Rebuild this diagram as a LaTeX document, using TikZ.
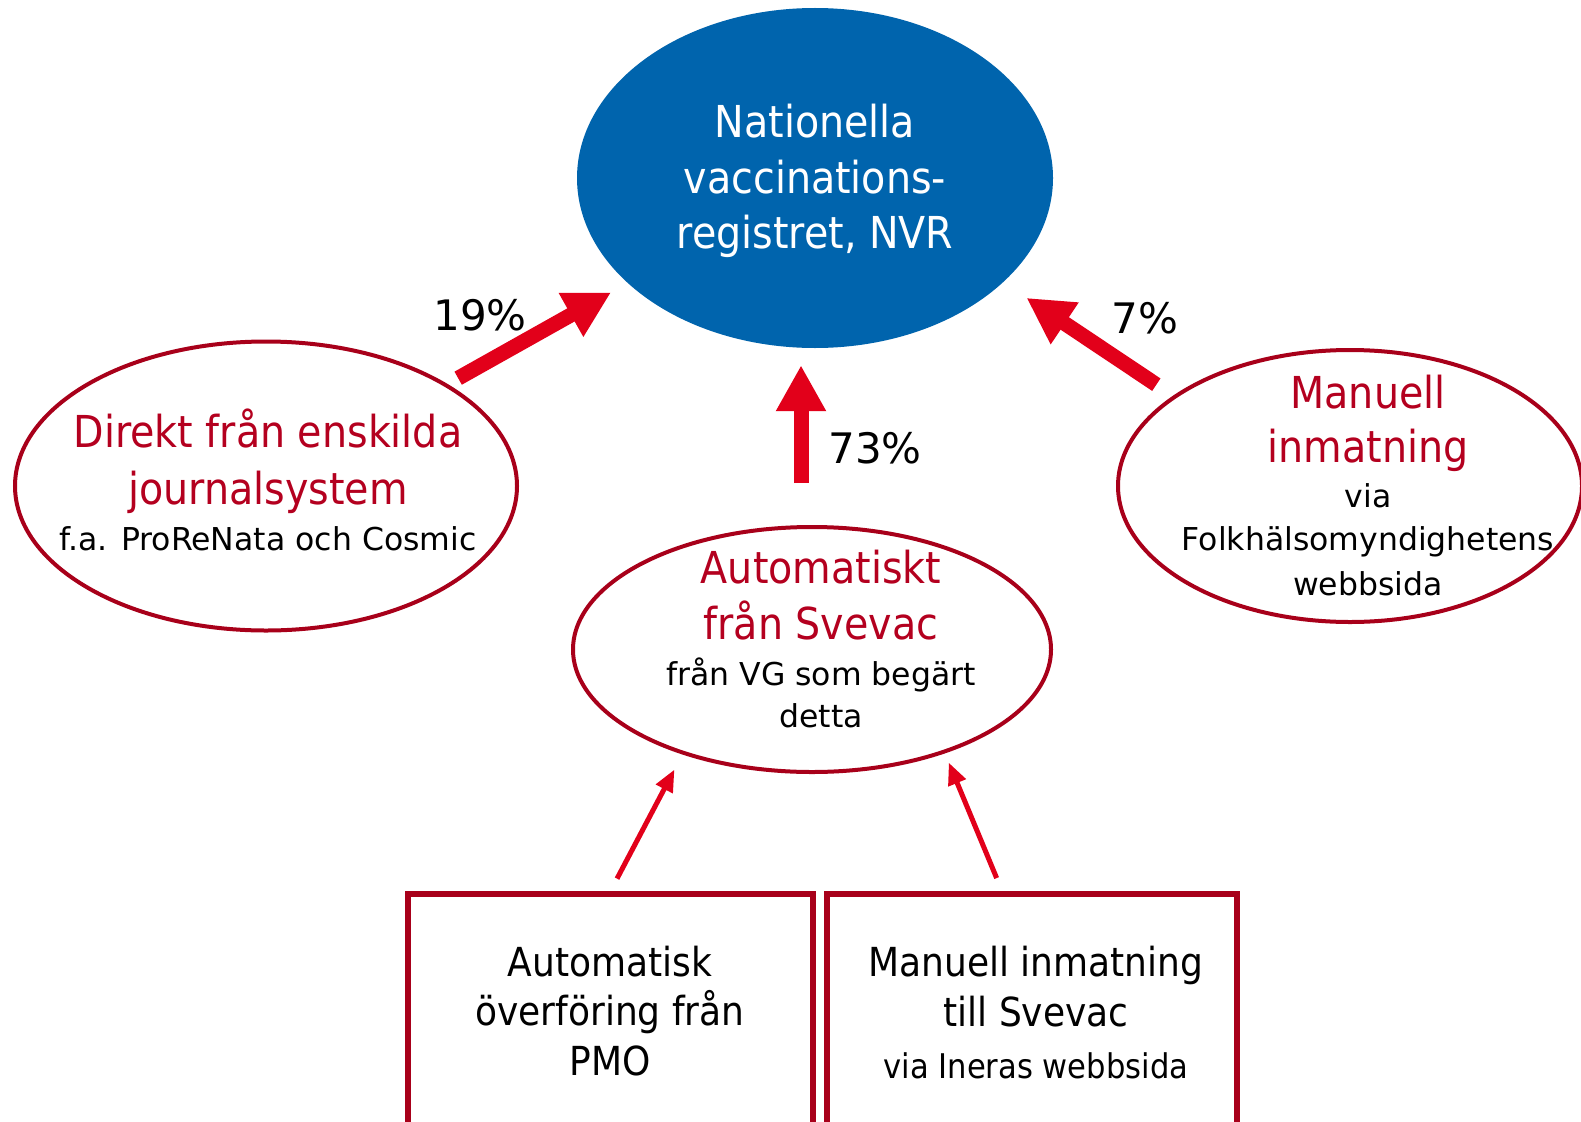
\documentclass[tikz,border=0pt]{standalone}
\usepackage{fontspec}
\setmainfont{DejaVu Sans}
\newfontfamily\condfont{DejaVu Sans Condensed}
\usetikzlibrary{arrows.meta,shapes.geometric}
\definecolor{nvrblue}{HTML}{0064AD}
\definecolor{darkred}{HTML}{A8001A}
\definecolor{txtred}{HTML}{B4001F}
\definecolor{arrred}{HTML}{E2001A}
\begin{document}
\begin{tikzpicture}[x=1pt,y=-1pt,
  ell/.style={draw=darkred,line width=4pt,ellipse,inner sep=0pt},
  boxstyle/.style={draw=darkred,line width=6pt,rectangle,inner sep=0pt},
  bigtxt/.style={anchor=base,inner sep=0pt,font=\condfont\fontsize{44}{50}\selectfont},
  smalltxt/.style={anchor=base,inner sep=0pt,font=\fontsize{31.5}{36}\selectfont},
  pcttxt/.style={anchor=base,inner sep=0pt,font=\fontsize{42}{48}\selectfont},
  boxtxt/.style={anchor=base,inner sep=0pt,font=\condfont\fontsize{40}{46}\selectfont},
  fatarrow/.style={draw=arrred,line width=15pt,-{Triangle[length=46pt,width=47pt]}},
  thinarrow/.style={draw=arrred,line width=5pt,-{Triangle[length=22pt,width=18pt]}}]
\clip (0,0) rectangle (1581,1121);
\fill[white] (0,0) rectangle (1581,1121);

% shapes
\node[ellipse,fill=nvrblue,inner sep=0pt,minimum width=476pt,minimum height=340pt] (nvr) at (815,178) {};
\node[ell,minimum width=502pt,minimum height=289pt] (left) at (266,486) {};
\node[ell,minimum width=478pt,minimum height=245pt] (mid) at (812,649.5) {};
\node[ell,minimum width=464pt,minimum height=272pt] (right) at (1350,486) {};
\node[boxstyle,minimum width=405pt,minimum height=260pt] (box1) at (610.5,1024) {};
\node[boxstyle,minimum width=410pt,minimum height=260pt] (box2) at (1032,1024) {};

% texts
\node[bigtxt,text=white] (t1) at (815,138) {Nationella};
\node[bigtxt,text=white] (t2) at (815,193) {vaccinations-};
\node[bigtxt,text=white] (t3) at (815,248) {registret, NVR};

\node[bigtxt,text=txtred] (l1) at (268,447) {Direkt från enskilda};
\node[bigtxt,text=txtred] (l2) at (268,504) {journalsystem};
\node[smalltxt] (l3) at (268,550) {f.a. ProReNata och Cosmic};

\node[bigtxt,text=txtred] (m1) at (821,583) {Automatiskt};
\node[bigtxt,text=txtred] (m2) at (821,639) {från Svevac};
\node[smalltxt] (m3) at (821,685) {från VG som begärt};
\node[smalltxt] (m4) at (821,727) {detta};

\node[bigtxt,text=txtred] (r1) at (1368,408) {Manuell};
\node[bigtxt,text=txtred] (r2) at (1368,462) {inmatning};
\node[smalltxt] (r3) at (1368,507) {via};
\node[smalltxt] (r4) at (1368,550) {Folkhälsomyndighetens};
\node[smalltxt] (r5) at (1368,595) {webbsida};

\node[boxtxt] (b1) at (610,976) {Automatisk};
\node[boxtxt] (b2) at (610,1025) {överföring från};
\node[boxtxt] (b3) at (610,1075) {PMO};
\node[boxtxt] (c1) at (1036,976) {Manuell inmatning};
\node[boxtxt] (c2) at (1036,1026) {till Svevac};
\node[boxtxt,font=\condfont\fontsize{34}{40}\selectfont] (c3) at (1036,1078) {via Ineras webbsida};

\node[pcttxt] (p19) at (480,330) {19\%};
\node[pcttxt] (p73) at (875,463) {73\%};
\node[pcttxt] (p7) at (1145,333) {7\%};

% connectors
\draw[fatarrow,shorten <=12pt,shorten >=19pt] (left) -- (nvr);
\draw[fatarrow,shorten <=42pt,shorten >=17pt] ([xshift=-11pt]mid.north) -- ([xshift=-14pt]nvr.south);
\draw[fatarrow,shorten <=20pt,shorten >=28pt] (right.153) -- (nvr.-29);
\draw[thinarrow,shorten <=14pt,shorten >=17pt] (box1.north) -- (mid.219);
\draw[thinarrow,shorten <=14pt,shorten >=10pt] ([xshift=-30pt]box2.north) -- (mid.-38);
\end{tikzpicture}
\end{document}
